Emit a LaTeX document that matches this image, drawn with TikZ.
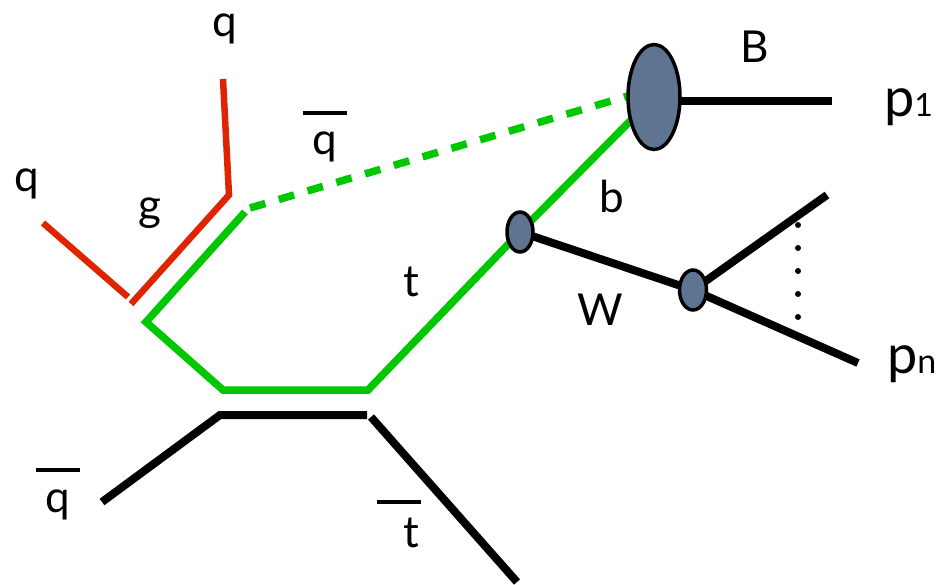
\documentclass[tikz,border=0pt]{standalone}
\usepackage{fontspec}
\setmainfont{Lato}
\usetikzlibrary{shapes.geometric}
\definecolor{redl}{RGB}{222,36,0}
\definecolor{greenl}{RGB}{0,200,0}
\definecolor{blob}{RGB}{95,116,145}
\tikzset{
  redline/.style={draw=redl, line width=6.5pt, line join=miter},
  greenline/.style={draw=greenl, line width=7.5pt, line join=miter},
  blackline/.style={draw=black, line width=8pt, line join=miter},
  dashgreen/.style={draw=greenl, line width=7.5pt, dash pattern=on 16pt off 14pt},
  barline/.style={draw=black, line width=4.5pt},
  blobnode/.style={ellipse, draw=black, line width=3.5pt, fill=blob, inner sep=0pt},
  lab/.style={font=\fontsize{44}{44}\selectfont, inner sep=0pt, anchor=base},
  plab/.style={font=\fontsize{54}{54}\selectfont, inner sep=0pt, anchor=base west},
}
\begin{document}
\begin{tikzpicture}[x=1pt,y=-1pt]
\useasboundingbox (0,0) rectangle (942,585);
% coordinates
\coordinate (qtop) at (223,79);
\coordinate (qv) at (229,195);
\coordinate (gend) at (131,304);
\coordinate (qleft) at (43,223);
\coordinate (qlend) at (128,297);
\coordinate (gs) at (245,212);
\coordinate (gc) at (146,322);
\coordinate (tl) at (223,390);
\coordinate (tr) at (368,390);
\coordinate (ds) at (250,208);
\coordinate (qbl) at (102,502);
\coordinate (bl) at (220,415);
\coordinate (br) at (367,415);
\coordinate (tbs) at (371,417);
\coordinate (tbe) at (517,582);
\coordinate (p1s) at (660,101);
\coordinate (p1e) at (832,101);
\coordinate (up) at (827,195);
\coordinate (lo) at (858,363);
% blobs positions
\coordinate (Bc) at (654,97);
\coordinate (W1c) at (520,232);
\coordinate (W2c) at (693,290);
% red lines
\draw[redline] (qtop) -- (qv) -- (gend);
\draw[redline] (qleft) -- (qlend);
% green lines
\draw[greenline] (gs) -- (gc) -- (tl) -- (tr) -- (W1c) -- (Bc);
\draw[dashgreen] (ds) -- (628,96);
% black lines
\draw[blackline] (qbl) -- (bl) -- (br);
\draw[blackline] (tbs) -- (tbe);
\draw[blackline] (p1s) -- (p1e);
\draw[blackline] (W1c) -- (W2c);
\draw[blackline] (W2c) -- (up);
\draw[blackline] (W2c) -- (lo);
% blobs
\node[blobnode, minimum width=52pt, minimum height=105pt] (B) at (Bc) {};
\node[blobnode, minimum width=26pt, minimum height=40pt] (W1) at (W1c) {};
\node[blobnode, minimum width=27pt, minimum height=40pt] (W2) at (W2c) {};
% dots
\foreach \yy [count=\i] in {225,248,271,294,317}
  \fill (798,\yy) circle (3pt) coordinate (dot\i);
% bars
\draw[barline] (303,113) coordinate (b1s) -- (347,113) coordinate (b1e);
\draw[barline] (36,470) coordinate (b2s) -- (80,470) coordinate (b2e);
\draw[barline] (377,502) coordinate (b3s) -- (421,502) coordinate (b3e);
% labels
\node[lab] (Lqtop) at (225,37) {q};
\node[lab] (Lqleft) at (27,192) {q};
\node[lab] (Lg) at (150,221) {g};
\node[lab] (Lqbar) at (325,155) {q};
\node[lab] (Lqbar2) at (58,512) {q};
\node[lab] (Lt) at (411,297) {t};
\node[lab] (Ltbar) at (411,547) {t};
\node[lab] (Lb) at (612,213) {b};
\node[lab] (LW) at (600,325) {W};
\node[lab] (LB) at (755,63) {B};
\node[plab] (Lp1) at (884,117) {p{\fontsize{32}{32}\selectfont 1}};
\node[plab] (Lpn) at (887,373) {p{\fontsize{34}{34}\selectfont n}};
\end{tikzpicture}
\end{document}
